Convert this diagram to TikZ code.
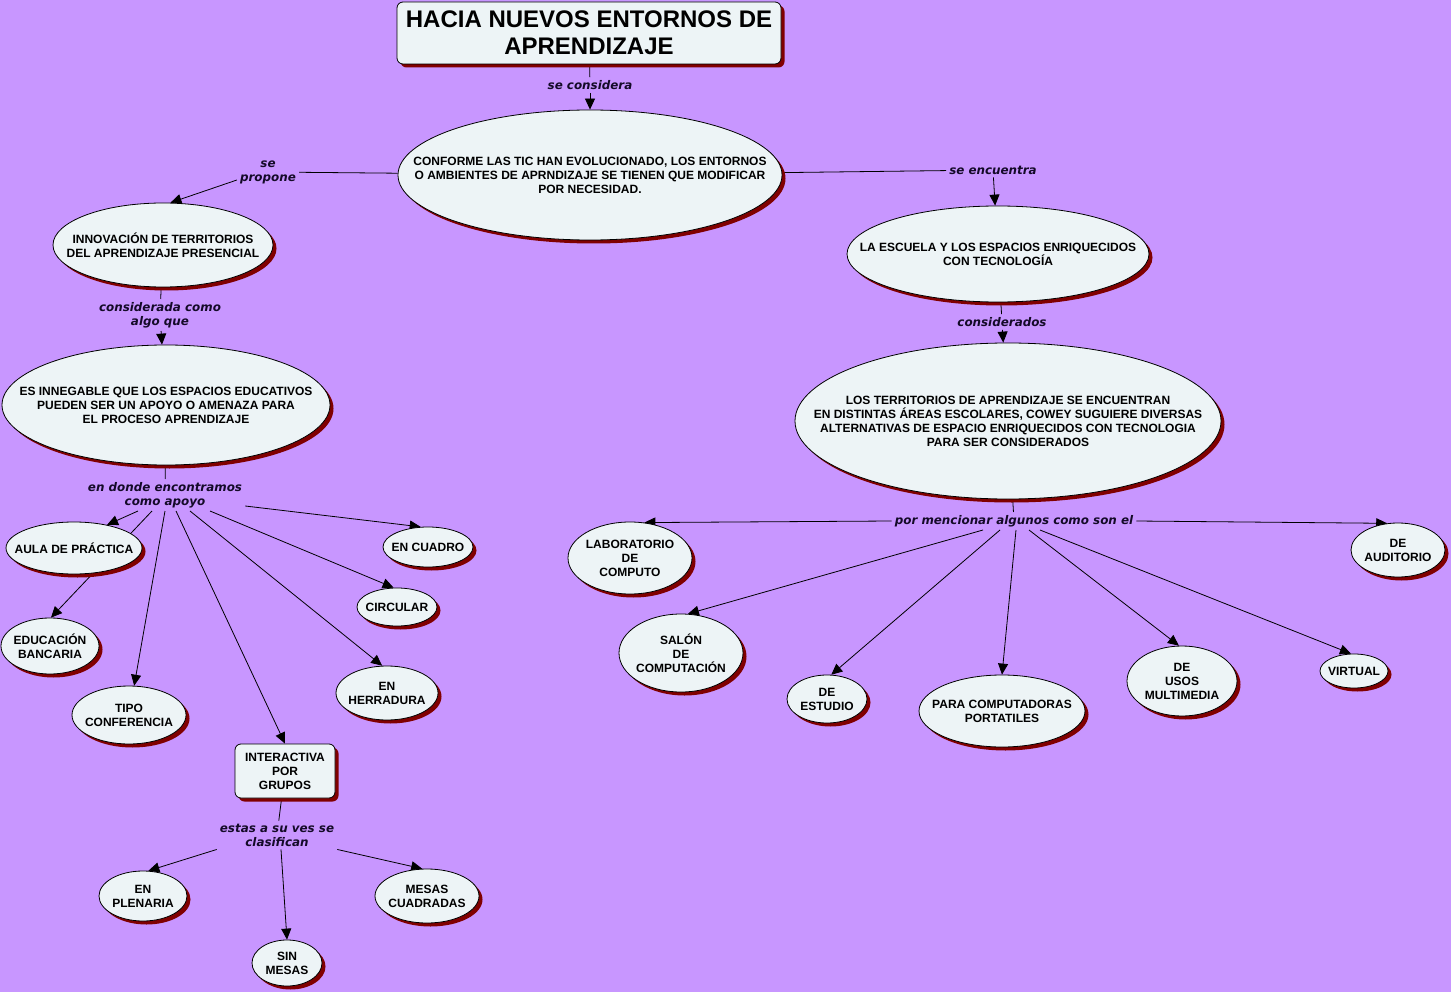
\documentclass[tikz,border=0pt]{standalone}
\usepackage{fontspec}
\setmainfont{Liberation Sans}
\newfontfamily\lblfont{DejaVu Sans}
\usetikzlibrary{shapes.geometric,shadows,arrows.meta}
\definecolor{bgc}{RGB}{200,150,255}
\definecolor{nodefill}{RGB}{237,244,246}
\definecolor{shadowc}{RGB}{128,0,0}
\definecolor{lblc}{RGB}{20,10,40}
\pgfdeclarelayer{bglayer}
\pgfdeclarelayer{edges}
\pgfsetlayers{bglayer,edges,main}
\tikzset{
  shd/.style={drop shadow={shadow xshift=3.5pt, shadow yshift=-3.5pt, fill=shadowc, opacity=1}},
  cshape/.style={ellipse, draw=black, line width=0.8pt, fill=nodefill, inner sep=0pt, shd},
  rshape/.style={rectangle, rounded corners=6pt, draw=black, line width=0.8pt, fill=nodefill, inner sep=0pt, shd, align=center},
  ctext/.style={align=center, inner sep=0pt, font=\fontsize{12}{14}\selectfont\bfseries},
  linklbl/.style={align=center, inner sep=3pt, text=lblc, font=\lblfont\bfseries\itshape\fontsize{11.9}{14}\selectfont},
  conn/.style={draw=black, line width=0.8pt},
  arr/.style={conn, -{Triangle[length=11pt,width=10pt]}}
}
\newcommand\mkell[6]{%
  \node[cshape, minimum width=#4pt, minimum height=#5pt] (#1) at (#2,#3) {};
  \node[ctext] (#1-t) at (#1.center) {#6};}
\begin{document}
\begin{tikzpicture}[x=1pt,y=-1pt]
\begin{pgfonlayer}{bglayer}
\fill[bgc] (0,0) rectangle (1451,992);
\end{pgfonlayer}
\useasboundingbox (0,0) rectangle (1451,992);

% title
\node[rshape, minimum width=384pt, minimum height=62pt, font=\fontsize{24}{27}\selectfont\bfseries] (title) at (589,33) {HACIA NUEVOS ENTORNOS DE\\APRENDIZAJE};

% concepts
\mkell{main}{590}{175}{384}{130}{CONFORME LAS TIC HAN EVOLUCIONADO, LOS ENTORNOS\\O AMBIENTES DE APRNDIZAJE SE TIENEN QUE MODIFICAR\\POR NECESIDAD.}
\mkell{innov}{163}{245}{220}{84}{INNOVACIÓN DE TERRITORIOS\\DEL APRENDIZAJE PRESENCIAL}
\mkell{inneg}{166}{405}{328}{120}{ES INNEGABLE QUE LOS ESPACIOS EDUCATIVOS\\PUEDEN SER UN APOYO O AMENAZA PARA\\EL PROCESO APRENDIZAJE}
\mkell{edu}{50}{646}{98}{56}{EDUCACIÓN\\BANCARIA}
\mkell{aula}{74}{548}{136}{52}{AULA DE PRÁCTICA}
\mkell{tipo}{129}{715}{114}{58}{TIPO\\CONFERENCIA}
\node[rshape, minimum width=100pt, minimum height=54pt, font=\fontsize{12}{14}\selectfont\bfseries] (inter) at (285,771) {INTERACTIVA\\POR\\GRUPOS};
\mkell{herr}{387}{693}{102}{54}{EN\\HERRADURA}
\mkell{circ}{397}{607}{80}{38}{CIRCULAR}
\mkell{cuadro}{428}{547}{90}{40}{EN CUADRO}
\mkell{plen}{143}{896}{88}{50}{EN\\PLENARIA}
\mkell{sinm}{287}{963}{70}{46}{SIN\\MESAS}
\mkell{mesas}{427}{896}{104}{54}{MESAS\\CUADRADAS}
\mkell{escuela}{998}{254}{302}{96}{LA ESCUELA Y LOS ESPACIOS ENRIQUECIDOS\\CON TECNOLOGÍA}
\mkell{terr}{1008}{421}{426}{156}{LOS TERRITORIOS DE APRENDIZAJE SE ENCUENTRAN\\EN DISTINTAS ÁREAS ESCOLARES, COWEY SUGUIERE DIVERSAS\\ALTERNATIVAS DE ESPACIO ENRIQUECIDOS CON TECNOLOGIA\\PARA SER CONSIDERADOS}
\mkell{lab}{630}{558}{124}{72}{LABORATORIO\\DE\\COMPUTO}
\mkell{aud}{1398}{550}{94}{54}{DE\\AUDITORIO}
\mkell{salon}{681}{653}{124}{78}{SALÓN\\DE\\COMPUTACIÓN}
\mkell{est}{827}{699}{80}{48}{DE\\ESTUDIO}
\mkell{port}{1002}{711}{166}{72}{PARA COMPUTADORAS\\PORTATILES}
\mkell{multi}{1182}{681}{110}{70}{DE\\USOS\\MULTIMEDIA}
\mkell{virt}{1354}{671}{68}{34}{VIRTUAL}

% link labels
\node[linklbl] (lconsidera) at (590,85) {se considera};
\node[linklbl] (lpropone) at (268,172) {se\\propone};
\node[linklbl] (lconsiderada) at (160,315) {considerada como\\algo que};
\node[linklbl] (lencontramos) at (165,495) {en donde encontramos\\como apoyo};
\node[linklbl] (lestas) at (277,835) {estas a su ves se\\clasifican};
\node[linklbl] (lencuentra) at (993,170) {se encuentra};
\node[linklbl] (lconsiderados) at (1002,322) {considerados};
\node[linklbl] (lmencionar) at (1014,521) {por mencionar algunos como son el};

\begin{pgfonlayer}{edges}
\draw[conn] (title) -- (lconsidera);
\draw[arr] (lconsidera) -- (main);
\draw[conn] (main) -- (lpropone);
\draw[arr] ([yshift=-8pt]lpropone.west) -- (innov.80);
\draw[conn] (innov) -- (lconsiderada);
\draw[arr] (lconsiderada) -- (inneg);
\draw[conn] (inneg) -- (lencontramos);
\draw[arr] ([xshift=-27pt]lencontramos.south) -- (aula.35);
\draw[arr] ([xshift=-13pt]lencontramos.south) -- (edu.88);
\draw[arr] ([xshift=0pt]lencontramos.south) -- (tipo.80);
\draw[arr] ([xshift=11pt]lencontramos.south) -- (inter.north);
\draw[arr] ([xshift=25pt]lencontramos.south) -- (herr.100);
\draw[arr] ([xshift=45pt]lencontramos.south) -- (circ.100);
\draw[arr] ([yshift=-11pt]lencontramos.east) -- (cuadro.110);
\draw[conn] (inter) -- (lestas);
\draw[arr] (lestas.south west) -- (plen.78);
\draw[arr] ([xshift=4pt]lestas.south) -- (sinm.north);
\draw[arr] (lestas.south east) -- (mesas.100);
\draw[conn] (main) -- (lencuentra);
\draw[arr] (lencuentra) -- (escuela);
\draw[conn] (escuela) -- (lconsiderados);
\draw[arr] (lconsiderados) -- (terr);
\draw[conn] (terr) -- (lmencionar);
\draw[arr] (lmencionar.west) -- (lab.68);
\draw[arr] (lmencionar.east) -- (aud.112);
\draw[arr] ([xshift=-31pt]lmencionar.south) -- (salon.80);
\draw[arr] ([xshift=-14pt]lmencionar.south) -- (est.80);
\draw[arr] ([xshift=2pt]lmencionar.south) -- (port.north);
\draw[arr] ([xshift=15pt]lmencionar.south) -- (multi.95);
\draw[arr] ([xshift=26pt]lmencionar.south) -- (virt.100);
\end{pgfonlayer}
\end{tikzpicture}
\end{document}
